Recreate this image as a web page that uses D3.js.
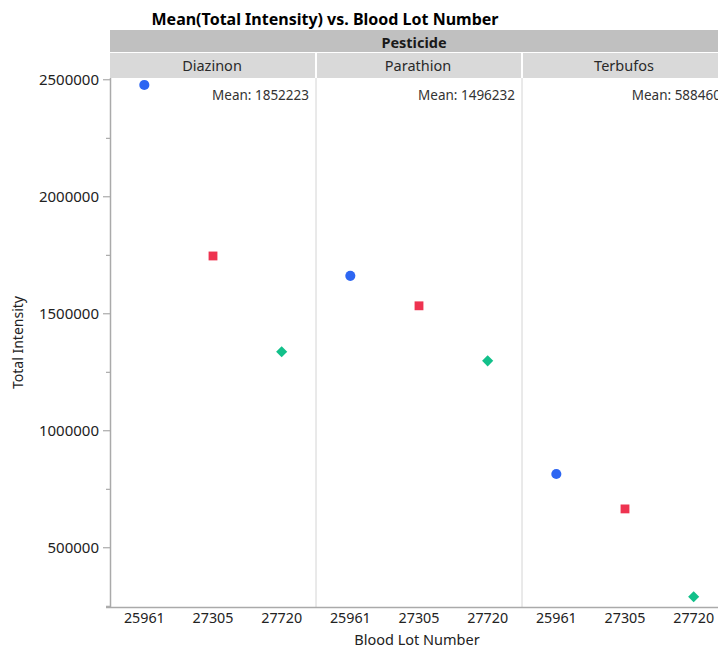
<!DOCTYPE html>
<html>
<head>
<meta charset="utf-8">
<script src="https://cdn.jsdelivr.net/npm/d3@7"></script>
<style>
  html, body { margin: 0; padding: 0; background: #fff; overflow: hidden; }
  svg { display: block; font-family: "Noto Sans", "Open Sans", sans-serif; }
</style>
</head>
<body>
<svg id="chart" width="718" height="650"></svg>
<script>
// Pesticide panels and blood lots on the x axis
const pesticides = ["Diazinon", "Parathion", "Terbufos"];
const lots = ["25961", "27305", "27720"];

// Mean total intensity per lot, one array per pesticide
const diazinon = [2476000, 1745000, 1335669];
const parathion = [1660000, 1532000, 1296696];
const terbufos = [813000, 664000, 288380];

const yTicks = [500000, 1000000, 1500000, 2000000, 2500000];
const yMinorTicks = [250000, 750000, 1250000, 1750000, 2250000];

const seriesByPesticide = { Diazinon: diazinon, Parathion: parathion, Terbufos: terbufos };

const lotColor = d3.scaleOrdinal().domain(lots).range(["#2d66f2", "#ee3350", "#12c08a"]);
const lotShape = d3.scaleOrdinal().domain(lots)
  .range([d3.symbolCircle, d3.symbolSquare, d3.symbolSquare]);
const lotSize = d3.scaleOrdinal().domain(lots).range([80, 78, 62]);
const lotRotate = d3.scaleOrdinal().domain(lots).range([0, 0, 45]);

const svg = d3.select("#chart");

const plotLeft = 110, plotRight = 728, plotTop = 78, plotBottom = 607;

const x0 = d3.scaleBand().domain(pesticides).range([plotLeft, plotRight]);
const x1 = d3.scaleBand().domain(lots).range([0, x0.bandwidth()]);
const y = d3.scaleLinear().domain([244800, 2505600]).range([plotBottom, plotTop]);

// Title
svg.append("text")
  .attr("x", 325).attr("y", 25)
  .attr("text-anchor", "middle")
  .attr("font-size", 16).attr("font-weight", "bold")
  .attr("fill", "#000")
  .text("Mean(Total Intensity) vs. Blood Lot Number");

// Group header strip
svg.append("rect")
  .attr("x", plotLeft).attr("y", 30)
  .attr("width", plotRight - plotLeft).attr("height", 22)
  .attr("fill", "#c0c0c0");
svg.append("text")
  .attr("x", (plotLeft + 718) / 2).attr("y", 47.5)
  .attr("text-anchor", "middle")
  .attr("font-size", 14.5).attr("font-weight", "bold")
  .attr("fill", "#1a1a1a")
  .text("Pesticide");

// Per-panel header strips
const headers = svg.append("g").selectAll("g").data(pesticides).join("g");
headers.append("rect")
  .attr("x", d => x0(d) + (d === pesticides[0] ? 0 : 1))
  .attr("y", 53)
  .attr("width", d => x0.bandwidth() - (d === pesticides[0] ? 1 : 2))
  .attr("height", 25)
  .attr("fill", "#d9d9d9");
headers.append("text")
  .attr("x", d => x0(d) + x0.bandwidth() / 2 - 1)
  .attr("y", 71)
  .attr("text-anchor", "middle")
  .attr("font-size", 14.5)
  .attr("fill", "#2a2a2a")
  .text(d => d);

// Panel dividers
svg.append("g").selectAll("line")
  .data(pesticides.slice(1))
  .join("line")
  .attr("x1", d => x0(d)).attr("x2", d => x0(d))
  .attr("y1", plotTop).attr("y2", plotBottom)
  .attr("stroke", "#d4d4d4").attr("stroke-width", 1);

// Y axis
const yAxis = svg.append("g")
  .attr("transform", `translate(${plotLeft},0)`)
  .call(d3.axisLeft(y).tickValues(yTicks).tickFormat(d3.format("d")).tickSize(7).tickPadding(4));
yAxis.select(".domain").remove();
yAxis.selectAll(".tick line").attr("stroke", "#999");
yAxis.selectAll(".tick text")
  .attr("font-family", "'Noto Sans', sans-serif")
  .attr("font-size", 15).attr("fill", "#222");
svg.append("g")
  .attr("transform", `translate(${plotLeft},0)`)
  .call(d3.axisLeft(y).tickValues(yMinorTicks).tickFormat("").tickSize(4))
  .call(g => g.select(".domain").remove())
  .selectAll(".tick line").attr("stroke", "#999");
svg.append("line")
  .attr("x1", plotLeft + 0.5).attr("x2", plotLeft + 0.5)
  .attr("y1", plotTop).attr("y2", plotBottom)
  .attr("stroke", "#aaa").attr("stroke-width", 1.5);

// X axis with lot labels under each panel
pesticides.forEach(p => {
  const g = svg.append("g")
    .attr("transform", `translate(${x0(p)},${plotBottom})`)
    .call(d3.axisBottom(x1).tickSize(0).tickPadding(6));
  g.select(".domain").remove();
  g.selectAll(".tick text")
    .attr("font-family", "'Noto Sans', sans-serif")
    .attr("font-size", 14.3).attr("fill", "#222");
});
svg.append("line")
  .attr("x1", 106).attr("x2", 718)
  .attr("y1", plotBottom + 0.5).attr("y2", plotBottom + 0.5)
  .attr("stroke", "#aaa").attr("stroke-width", 1.5);

// Axis titles
svg.append("text")
  .attr("x", 417).attr("y", 645)
  .attr("text-anchor", "middle")
  .attr("font-size", 14.5).attr("fill", "#222")
  .text("Blood Lot Number");
svg.append("text")
  .attr("transform", `translate(23,${(plotTop + plotBottom) / 2}) rotate(-90)`)
  .attr("text-anchor", "middle")
  .attr("font-size", 14).attr("fill", "#222")
  .text("Total Intensity");

// Panels: markers and mean labels
pesticides.forEach(p => {
  const values = seriesByPesticide[p];
  const panel = svg.append("g").attr("transform", `translate(${x0(p)},0)`);

  panel.selectAll("path")
    .data(lots.map((lot, i) => ({ lot, value: values[i] })))
    .join("path")
    .attr("transform", d =>
      `translate(${x1(d.lot) + x1.bandwidth() / 2},${y(d.value)}) rotate(${lotRotate(d.lot)})`)
    .attr("d", d => d3.symbol().type(lotShape(d.lot)).size(lotSize(d.lot))())
    .attr("fill", d => lotColor(d.lot));

  panel.append("text")
    .attr("x", x0.bandwidth() - 7)
    .attr("y", 100)
    .attr("text-anchor", "end")
    .attr("font-size", 13.5).attr("fill", "#333")
    .text(`Mean: ${Math.round(d3.mean(values))}`);
});
</script>
</body>
</html>
